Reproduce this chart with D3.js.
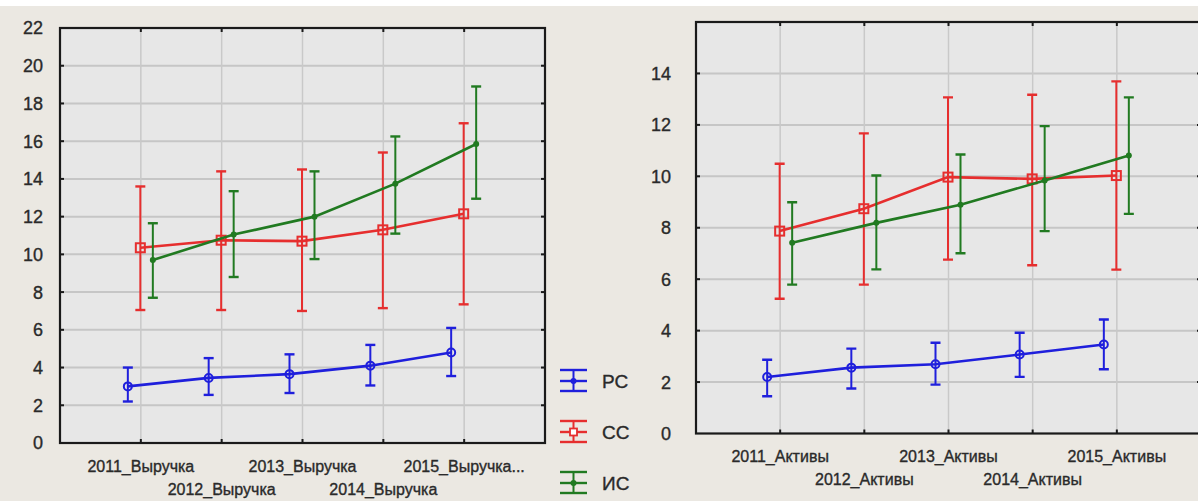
<!DOCTYPE html>
<html><head><meta charset="utf-8">
<script src="https://cdn.jsdelivr.net/npm/d3@7"></script>
<style>
html,body{margin:0;padding:0;background:#ebe8e2;}
svg{display:block;}
text{font-family:"Liberation Sans",Arial,sans-serif;fill:#2a2a2a;stroke:#2a2a2a;stroke-width:0.35px;}
</style></head>
<body>
<svg id="c" width="1198" height="501"></svg>
<script>
// ---- data ----
const seriesNames = ["РС", "СС", "ИС"];
const seriesColors = ["#1f1fdc", "#e62e2e", "#217a21"];

const revenueCategories = ["2011_Выручка", "2012_Выручка", "2013_Выручка", "2014_Выручка", "2015_Выручка..."];
const revPC_mean = [3.0, 3.45, 3.65, 4.1, 4.8];
const revPC_low  = [2.2, 2.55, 2.65, 3.05, 3.55];
const revPC_high = [4.0, 4.5, 4.7, 5.2, 6.1];
const revCC_mean = [10.35, 10.75, 10.7, 11.3, 12.15];
const revCC_low  = [7.05, 7.05, 7.0, 7.15, 7.35];
const revCC_high = [13.6, 14.4, 14.5, 15.4, 16.95];
const revIC_mean = [9.7, 11.05, 12.0, 13.75, 15.85];
const revIC_low  = [7.7, 8.8, 9.75, 11.1, 12.95];
const revIC_high = [11.65, 13.35, 14.4, 16.25, 18.9];
const revTicks = [0, 2, 4, 6, 8, 10, 12, 14, 16, 18, 20, 22];

const assetCategories = ["2011_Активы", "2012_Активы", "2013_Активы", "2014_Активы", "2015_Активы"];
const actPC_mean = [2.2, 2.56, 2.69, 3.07, 3.46];
const actPC_low  = [1.45, 1.75, 1.9, 2.2, 2.5];
const actPC_high = [2.87, 3.3, 3.53, 3.92, 4.43];
const actCC_mean = [7.87, 8.74, 9.97, 9.9, 10.03];
const actCC_low  = [5.24, 5.79, 6.76, 6.54, 6.37];
const actCC_high = [10.49, 11.67, 13.07, 13.17, 13.69];
const actIC_mean = [7.42, 8.19, 8.89, 9.84, 10.81];
const actIC_low  = [5.79, 6.38, 7.01, 7.87, 8.54];
const actIC_high = [8.99, 10.03, 10.85, 11.95, 13.07];
const actTicks = [0, 2, 4, 6, 8, 10, 12, 14];

function buildSeries(cats, means, lows, highs) {
  return seriesNames.map((name, s) => ({
    name, color: seriesColors[s], idx: s,
    points: cats.map((c, i) => ({cat: c, m: means[s][i], lo: lows[s][i], hi: highs[s][i]}))
  }));
}

const svg = d3.select("#c");
svg.append("rect").attr("x", 0).attr("y", 0).attr("width", 1198).attr("height", 6).attr("fill", "#ffffff");

function drawPanel(opt) {
  const {cats, data, ticks, yMax, left, right, top, bottom, labelX, rowY} = opt;
  const g = svg.append("g");
  const x = d3.scalePoint().domain(cats).range([left, right]).padding(1);
  const y = d3.scaleLinear().domain([0, yMax]).range([bottom, top]);
  const off = d3.scalePoint().domain(seriesNames).range([-13, 12]);

  const clipId = "clip" + left;
  svg.append("clipPath").attr("id", clipId).append("rect")
    .attr("x", left).attr("y", top).attr("width", right - left).attr("height", bottom - top);

  g.append("rect").attr("x", left).attr("y", top).attr("width", right - left).attr("height", bottom - top)
    .attr("fill", "#e7e7e7");

  // grid
  g.append("g").selectAll("line").data(ticks.filter(t => t > 0 && t < yMax)).join("line")
    .attr("x1", left).attr("x2", right).attr("y1", d => y(d)).attr("y2", d => y(d))
    .attr("stroke", "#c6c6c6").attr("stroke-width", 2);
  g.append("g").selectAll("line").data(cats).join("line")
    .attr("x1", d => x(d)).attr("x2", d => x(d)).attr("y1", top).attr("y2", bottom)
    .attr("stroke", "#c9c9c9").attr("stroke-width", 1.5);

  // y tick labels
  g.append("g").selectAll("text").data(ticks).join("text")
    .attr("x", labelX).attr("y", d => y(d)).attr("dy", "0.36em")
    .attr("text-anchor", "end").attr("font-size", 18).text(d => d);

  // x labels (staggered)
  g.append("g").selectAll("text").data(cats).join("text")
    .attr("x", d => x(d)).attr("y", (d, i) => rowY[i % 2])
    .attr("text-anchor", "middle").attr("font-size", 16).text(d => d);

  const plot = g.append("g").attr("clip-path", "url(#" + clipId + ")");
  const line = d3.line().x(p => x(p.cat) + p.o).y(p => y(p.m));

  data.forEach(s => {
    const o = off(s.name);
    const pts = s.points.map(p => Object.assign({o}, p));
    const sg = plot.append("g");
    sg.append("path").datum(pts).attr("d", line).attr("fill", "none")
      .attr("stroke", s.color).attr("stroke-width", 2.6);
    const eb = sg.selectAll("g.eb").data(pts).join("g");
    eb.append("line").attr("x1", p => x(p.cat) + o).attr("x2", p => x(p.cat) + o)
      .attr("y1", p => y(p.lo)).attr("y2", p => y(p.hi)).attr("stroke", s.color).attr("stroke-width", 2);
    [p => p.lo, p => p.hi].forEach(f => {
      eb.append("line").attr("x1", p => x(p.cat) + o - 5).attr("x2", p => x(p.cat) + o + 5)
        .attr("y1", p => y(f(p))).attr("y2", p => y(f(p))).attr("stroke", s.color).attr("stroke-width", 2.4);
    });
    if (s.idx === 1) {
      eb.append("rect").attr("x", p => x(p.cat) + o - 4.5).attr("y", p => y(p.m) - 4.5)
        .attr("width", 9).attr("height", 9).attr("fill", "none").attr("stroke", s.color).attr("stroke-width", 2);
    } else if (s.idx === 0) {
      eb.append("circle").attr("cx", p => x(p.cat) + o).attr("cy", p => y(p.m)).attr("r", 4)
        .attr("fill", "none").attr("stroke", s.color).attr("stroke-width", 2);
    } else {
      eb.append("circle").attr("cx", p => x(p.cat) + o).attr("cy", p => y(p.m)).attr("r", 3)
        .attr("fill", s.color);
    }
  });

  // frame
  g.append("rect").attr("x", left).attr("y", top).attr("width", right - left).attr("height", bottom - top)
    .attr("fill", "none").attr("stroke", "#1a1a1a").attr("stroke-width", 2.2);
  // inner ticks
  g.append("g").selectAll("line").data(cats).join("line")
    .attr("x1", d => x(d)).attr("x2", d => x(d)).attr("y1", bottom).attr("y2", bottom - 4)
    .attr("stroke", "#1a1a1a").attr("stroke-width", 2);
  g.append("g").selectAll("line").data(cats).join("line")
    .attr("x1", d => x(d)).attr("x2", d => x(d)).attr("y1", top).attr("y2", top + 4)
    .attr("stroke", "#1a1a1a").attr("stroke-width", 2);
  g.append("g").selectAll("line").data(ticks.filter(t => t > 0 && t < yMax)).join("line")
    .attr("x1", left).attr("x2", left + 4).attr("y1", d => y(d)).attr("y2", d => y(d))
    .attr("stroke", "#1a1a1a").attr("stroke-width", 2);
  g.append("g").selectAll("line").data(ticks.filter(t => t > 0 && t < yMax)).join("line")
    .attr("x1", right).attr("x2", right - 4).attr("y1", d => y(d)).attr("y2", d => y(d))
    .attr("stroke", "#1a1a1a").attr("stroke-width", 2);
}

drawPanel({
  cats: revenueCategories,
  data: buildSeries(revenueCategories, [revPC_mean, revCC_mean, revIC_mean], [revPC_low, revCC_low, revIC_low], [revPC_high, revCC_high, revIC_high]),
  ticks: revTicks, yMax: 22, left: 60, right: 545, top: 28, bottom: 443, labelX: 43, rowY: [472, 495]
});
drawPanel({
  cats: assetCategories,
  data: buildSeries(assetCategories, [actPC_mean, actCC_mean, actIC_mean], [actPC_low, actCC_low, actIC_low], [actPC_high, actCC_high, actIC_high]),
  ticks: actTicks, yMax: 16, left: 696, right: 1201, top: 22, bottom: 433.5, labelX: 671, rowY: [462, 485]
});

// legend
const leg = svg.append("g").selectAll("g").data(seriesNames).join("g")
  .attr("transform", (d, i) => `translate(560,${381 + i * 51})`);
leg.each(function(d, i) {
  const gg = d3.select(this), c = seriesColors[i];
  gg.append("line").attr("x1", 0).attr("x2", 27).attr("y1", -11).attr("y2", -11).attr("stroke", c).attr("stroke-width", 2.4);
  gg.append("line").attr("x1", 0).attr("x2", 27).attr("y1", 0).attr("y2", 0).attr("stroke", c).attr("stroke-width", 2.4);
  gg.append("line").attr("x1", 0).attr("x2", 27).attr("y1", 10).attr("y2", 10).attr("stroke", c).attr("stroke-width", 2.4);
  gg.append("line").attr("x1", 13.5).attr("x2", 13.5).attr("y1", -11).attr("y2", 10).attr("stroke", c).attr("stroke-width", 2);
  if (i === 1) gg.append("rect").attr("x", 10).attr("y", -3.5).attr("width", 7).attr("height", 7).attr("fill", "#fff").attr("stroke", c).attr("stroke-width", 1.8);
  else gg.append("circle").attr("cx", 13.5).attr("cy", 0).attr("r", 3).attr("fill", c);
  gg.append("text").attr("x", 42).attr("y", 0).attr("dy", "0.36em").attr("font-size", 19).text(d);
});
</script>
</body></html>
